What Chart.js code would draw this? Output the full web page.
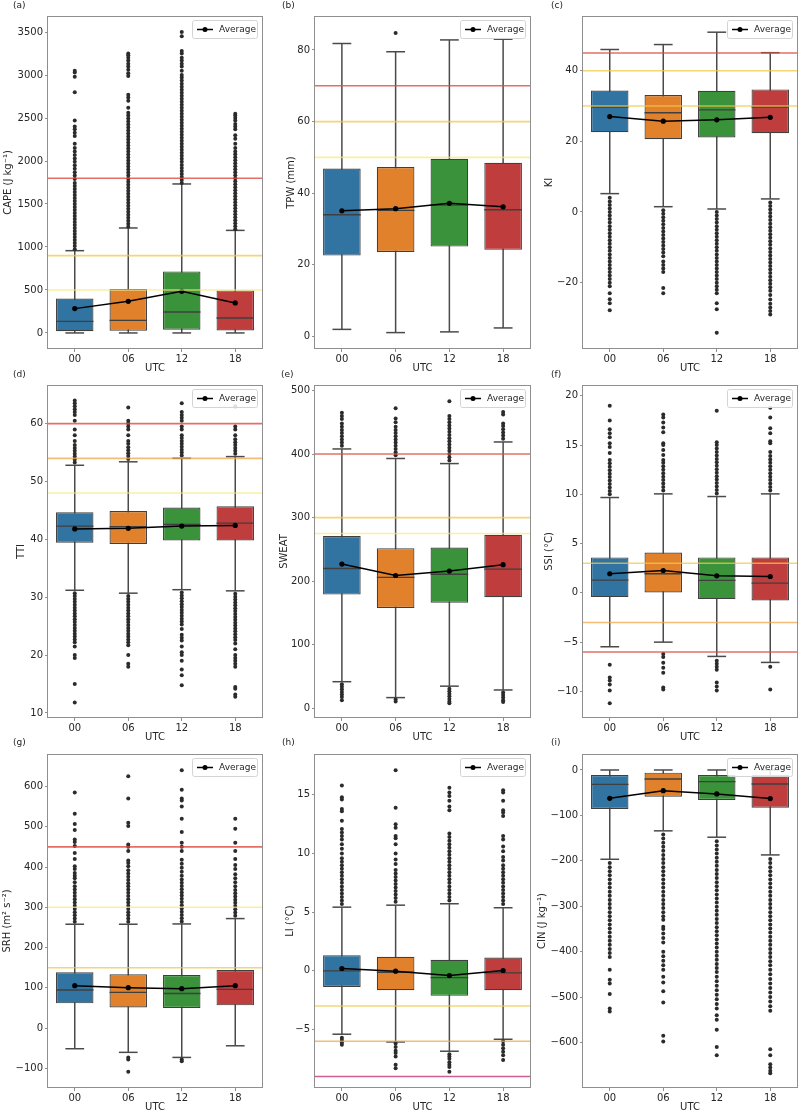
<!DOCTYPE html>
<html><head><meta charset="utf-8">
<script src="https://cdn.jsdelivr.net/npm/chart.js@4.4.0/dist/chart.umd.min.js"></script>
<style>
html,body{margin:0;padding:0;background:#fff;}
#wrap{position:relative;width:800px;height:1113px;overflow:hidden;background:#fff;}
#wrap canvas{position:absolute;}
.plabel{position:absolute;font:9px "DejaVu Sans",sans-serif;color:#222;white-space:nowrap;z-index:5;}
</style></head><body><div id="wrap"></div>
<script>
// ---------- DATA ----------
const utc = ['00', '06', '12', '18'];

// (a) CAPE
const capeTicks = [0, 500, 1000, 1500, 2000, 2500, 3000, 3500];
const capeQ1 = [19, 27, 38, 28];
const capeQ3 = [400, 512, 716, 495];
const capeMedian = [135, 147, 244, 174];
const capeMean = [283, 368, 484, 349];
const capeWhiskerLow = [0, 0, 0, 0];
const capeWhiskerHigh = [957, 1221, 1733, 1193];
const capeOutliers = [
  [975,1010,1045,1080,1115,1150,1185,1220,1255,1290,1325,1360,1395,1430,1465,1500,1535,1570,1605,1640,1675,1710,1745,1790,1830,1870,1910,1950,1990,2030,2070,2110,2150,2200,2290,2330,2370,2400,2470,2800,2980,3030,3050],
  [1235,1270,1305,1340,1375,1410,1445,1480,1515,1550,1585,1620,1655,1690,1725,1760,1795,1830,1865,1900,1935,1970,2005,2040,2075,2110,2145,2180,2215,2250,2285,2320,2355,2390,2425,2460,2495,2530,2560,2620,2700,2740,2770,2990,3020,3060,3100,3130,3170,3200,3230,3250],
  [1745,1780,1815,1850,1885,1920,1955,1990,2025,2060,2095,2130,2165,2200,2235,2270,2305,2340,2375,2410,2445,2480,2515,2550,2585,2620,2655,2690,2725,2760,2795,2830,2865,2900,2935,2970,3000,3050,3100,3130,3170,3200,3250,3280,3450,3500],
  [1205,1240,1275,1310,1345,1380,1415,1450,1485,1520,1555,1590,1625,1660,1695,1730,1765,1800,1835,1870,1905,1940,1975,2010,2045,2080,2110,2150,2200,2260,2300,2370,2400,2430,2470,2500,2530,2550]
];
const capeThresholds = [1800, 900, 500];

// (b) TPW
const tpwTicks = [0, 20, 40, 60, 80];
const tpwQ1 = [22.6, 23.6, 25.1, 24.2];
const tpwQ3 = [46.9, 47.3, 49.6, 48.5];
const tpwMedian = [34.0, 35.2, 36.7, 35.4];
const tpwMean = [35.1, 35.7, 37.2, 36.2];
const tpwWhiskerLow = [2.0, 1.1, 1.3, 2.4];
const tpwWhiskerHigh = [81.8, 79.5, 82.8, 83.0];
const tpwOutliers = [[], [84.7], [], []];
const tpwThresholds = [70, 60, 50];

// (c) KI
const kiTicks = [-20, 0, 20, 40];
const kiQ1 = [22.6, 20.6, 21.1, 22.3];
const kiQ3 = [34.4, 33.1, 34.3, 34.7];
const kiMedian = [29.7, 28.1, 28.9, 29.7];
const kiMean = [27.0, 25.7, 26.1, 26.8];
const kiWhiskerLow = [5.2, 1.5, 0.85, 3.7];
const kiWhiskerHigh = [46.0, 47.4, 50.9, 45.1];
const kiOutliers = [
  [4,3,2,1,0,-1,-2,-3,-4,-5,-6,-7,-8,-9,-10,-11,-12,-13,-14,-15,-16,-17,-18,-19,-20,-21,-23,-24.7,-25.8,-27.8],
  [0.5,-0.5,-1.5,-2.5,-3.5,-4.5,-5.5,-6.5,-7.5,-8.5,-9.5,-10.5,-11.5,-12.5,-14,-15,-16,-17,-21.5,-23],
  [0,-1,-2,-3,-4,-5,-6,-7,-8,-9,-10,-11,-12,-13,-14,-15,-16,-17,-18,-19,-20,-21,-22,-23,-25.8,-27.5,-34.2],
  [2.7,1.7,0.7,-0.3,-1.3,-2.3,-3.3,-4.3,-5.3,-6.3,-7.3,-8.3,-9.3,-10.3,-11.3,-12.3,-13.3,-14.3,-15.3,-16.3,-17.3,-18.3,-19.3,-20.3,-21.3,-22.3,-23.5,-24.8,-26,-27,-28,-29]
];
const kiThresholds = [45, 40, 30];

// (d) TTI
const ttiTicks = [10, 20, 30, 40, 50, 60];
const ttiQ1 = [39.4, 39.2, 39.8, 39.8];
const ttiQ3 = [44.7, 44.9, 45.5, 45.7];
const ttiMedian = [42.3, 42.2, 42.6, 42.8];
const ttiMean = [41.8, 41.9, 42.3, 42.4];
const ttiWhiskerLow = [31.2, 30.7, 31.3, 31.1];
const ttiWhiskerHigh = [52.8, 53.4, 54.0, 54.3];
const ttiOutliers = [
  [53.3,53.8,54.3,54.8,55.3,55.8,56.3,57,58,59,60.5,61.5,62,62.5,63,63.5,64,30.7,30.2,29.7,29.2,28.7,28.2,27.7,27.2,26.7,26.2,25.7,25.2,24.7,24.2,23.7,23.2,22.7,22.2,21.5,20,19.5,15,11.8],
  [53.9,54.4,54.9,55.4,55.9,56.5,57,58,59,59.5,60,60.5,62.8,30.2,29.7,29.2,28.7,28.2,27.7,27.2,26.7,26.2,25.7,25.2,24.7,24.2,23.7,23.2,22.7,22.2,21.7,20,18.5,18],
  [54.5,55,55.5,56,56.5,57,57.5,58,59,59.5,60.5,61,61.5,62,63.5,30.8,30.3,29.8,29.3,28.8,28.3,27.8,27.3,26.8,26.3,25.8,25.3,24.5,23.5,23,22.5,21.5,20.5,20,19,17.5,16.5,14.8],
  [54.8,55.3,55.8,56.3,56.8,57.3,58,59,59.5,63,30.6,30.1,29.6,29.1,28.6,28.1,27.6,27.1,26.6,26.1,25.6,25.1,24.6,24.1,23.6,23.1,22.6,22,21,20,19.5,19,18.5,18,14.5,14.2,13.2,12.8]
];
const ttiThresholds = [60, 54, 48];

// (e) SWEAT
const sweatTicks = [0, 100, 200, 300, 400, 500];
const sweatQ1 = [179, 158, 166, 175];
const sweatQ3 = [271, 252, 253, 273];
const sweatMedian = [220, 206, 211, 219];
const sweatMean = [227, 209, 216, 226];
const sweatWhiskerLow = [42, 17, 35, 29];
const sweatWhiskerHigh = [408, 393, 385, 419];
const sweatOutliers = [
  [413,418,423,428,433,438,443,448,455,460,465,38,34,30,26,22,18,13],
  [398,403,408,413,418,423,428,433,438,443,450,456,472,14,11],
  [390,395,400,405,410,415,420,425,430,435,440,445,450,455,460,483,31,27,23,19,15,11,8],
  [424,429,434,439,444,448,462,466,25,21,17,13,10]
];
const sweatThresholds = [400, 300, 275];

// (f) SSI
const ssiTicks = [-10, -5, 0, 5, 10, 15, 20];
const ssiQ1 = [-0.43, 0.04, -0.63, -0.77];
const ssiQ3 = [3.6, 4.1, 3.6, 3.6];
const ssiMedian = [1.3, 1.94, 1.26, 0.99];
const ssiMean = [1.94, 2.27, 1.73, 1.66];
const ssiWhiskerLow = [-5.47, -5.0, -6.45, -7.06];
const ssiWhiskerHigh = [9.68, 10.05, 9.78, 10.05];
const ssiOutliers = [
  [10,10.35,10.7,11.05,11.4,11.75,12.1,12.45,12.8,13.15,13.5,14.2,14.8,15.2,15.8,16.2,16.6,17.5,19,-7.3,-8.6,-8.9,-9.3,-9.9,-11.2],
  [10.4,10.75,11.1,11.45,11.8,12.15,12.5,12.85,13.2,13.5,14,14.5,15,15.2,16.3,16.8,17.3,17.8,18.1,-6.2,-6.5,-7.1,-7.6,-8.1,-9.6,-9.8],
  [10.1,10.45,10.8,11.15,11.5,11.85,12.2,12.55,12.9,13.25,13.6,13.95,14.3,14.65,15,15.3,18.5,-6.9,-7.2,-7.5,-7.8,-9.1,-9.5,-9.9],
  [10.4,10.75,11.1,11.45,11.8,12.15,12.5,12.85,13.2,13.55,13.9,14.3,15.2,15.4,16.2,16.7,17.8,18.8,-7.5,-9.8]
];
const ssiThresholds = [3, -3, -6];

// (g) SRH
const srhTicks = [-100, 0, 100, 200, 300, 400, 500, 600];
const srhQ1 = [61.6, 51.6, 50.0, 56.6];
const srhQ3 = [138.6, 133.6, 132.0, 144.4];
const srhMedian = [94.7, 89.0, 86.0, 96.4];
const srhMean = [105.4, 100.4, 98.0, 105.4];
const srhWhiskerLow = [-51, -60, -72.6, -43.7];
const srhWhiskerHigh = [258, 258, 258.7, 272];
const srhOutliers = [
  [264,272,280,288,296,304,312,320,328,336,344,352,362,372,378,385,395,402,420,435,452,462,468,492,507,532,585],
  [264,272,280,288,296,304,312,320,328,336,344,352,360,368,376,384,392,402,410,416,440,450,456,502,510,570,625,-73,-78,-108],
  [265,273,281,289,297,305,313,321,329,337,345,353,361,369,378,388,398,408,418,440,450,460,487,520,550,565,570,592,640,-78,-82],
  [279,287,295,303,311,319,327,335,343,352,362,372,382,395,405,420,440,460,495,520]
];
const srhThresholds = [450, 300, 150];

// (h) LI
const liTicks = [-5, 0, 5, 10, 15];
const liQ1 = [-1.37, -1.65, -2.13, -1.65];
const liQ3 = [1.34, 1.2, 0.94, 1.14];
const liMedian = [0.0, -0.12, -0.57, -0.17];
const liMean = [0.2, -0.03, -0.4, 0.03];
const liWhiskerLow = [-5.4, -6.06, -6.85, -5.83];
const liWhiskerHigh = [5.43, 5.6, 5.72, 5.38];
const liOutliers = [
  [5.7,6,6.3,6.6,6.9,7.2,7.5,7.8,8.1,8.4,8.7,9,9.3,9.6,10,10.4,10.8,11.2,11.5,11.8,12.1,12.8,13.6,13.8,14.6,14.8,15.8,-5.7,-5.9,-6.1,-6.3],
  [5.9,6.2,6.5,6.8,7.1,7.4,7.7,8,8.3,8.6,9.1,9.5,10,10.8,11.3,11.5,12.2,12.5,13.9,17.1,-6.2,-6.5,-6.8,-7,-7.3,-8,-8.3],
  [6,6.3,6.6,6.9,7.2,7.5,7.8,8.1,8.4,8.7,9,9.3,9.6,9.9,10.2,10.5,10.8,11.1,11.4,11.7,13.7,14,14.5,14.9,15.2,15.6,-7.1,-7.3,-7.5,-7.8,-8,-8.2,-8.6],
  [5.7,6,6.3,6.6,6.9,7.2,7.5,7.8,8.1,8.4,8.7,9,9.4,9.7,10.2,10.6,11.2,11.5,13.2,13.5,13.7,14.5,15.2,15.4,-6,-6.3,-6.6,-6.9,-7.2,-7.6]
];
const liThresholds = [-3, -6, -9];

// (i) CIN
const cinTicks = [-600, -500, -400, -300, -200, -100, 0];
const cinQ1 = [-85.8, -58.7, -66, -83];
const cinQ3 = [-11, -5.9, -11, -11];
const cinMedian = [-31.5, -19.8, -25.7, -30.8];
const cinMean = [-62.3, -45.5, -52.8, -63];
const cinWhiskerLow = [-196.6, -134, -148, -187];
const cinWhiskerHigh = [0, 0, 0, 0];
const cinOutliers = [
  [-205,-214,-223,-232,-241,-250,-259,-268,-277,-286,-295,-304,-313,-322,-331,-340,-349,-358,-367,-376,-385,-394,-403,-412,-440,-462,-470,-493,-525,-532],
  [-142,-151,-160,-169,-178,-187,-196,-205,-214,-223,-232,-241,-250,-259,-268,-277,-286,-295,-304,-313,-322,-330,-345,-350,-360,-370,-380,-400,-410,-420,-430,-440,-455,-468,-487,-512,-585,-598],
  [-157,-166,-175,-184,-193,-202,-211,-220,-229,-238,-247,-256,-265,-274,-283,-292,-301,-310,-319,-328,-337,-346,-355,-364,-373,-382,-391,-400,-409,-418,-427,-436,-445,-455,-465,-475,-485,-495,-505,-515,-525,-540,-550,-572,-610,-628],
  [-196,-205,-214,-223,-232,-241,-250,-259,-268,-277,-286,-295,-304,-313,-322,-331,-340,-349,-358,-367,-376,-385,-394,-403,-412,-421,-430,-440,-450,-460,-470,-480,-490,-500,-510,-520,-530,-615,-628,-648,-655,-662,-668]
];
const cinThresholds = [];

// ---------- STYLE ----------
const BOX_COLORS = ['#3274a1', '#e1812c', '#3a923a', '#c03d3e'];
const EDGE = '#3f3f3f';
const WHISK = '#4a4a4a';
const SPINE = '#8f8f8f';
const TEXT = '#262626';
const RED = 'rgba(222,75,65,0.8)';
const GOLD = 'rgba(242,200,70,0.75)';
const ORANGE = 'rgba(240,165,70,0.75)';
const PALE = 'rgba(248,232,120,0.7)';
const MAGENTA = 'rgba(200,50,120,0.8)';
const FONT = '"DejaVu Sans", sans-serif';

const colL = [0, 265, 530], colW = [265, 266, 270];
const areaX = [[48, 262], [315, 530], [583, 797]];
const rowT = [0, 370, 740];
const areaY = [[17, 348], [386, 717], [755, 1087]];
const X_H = 26;

const panels = [
  {label:'(a)', col:0, row:0, titleX:8,    yTitle:'CAPE (J kg\u207B\u00B9)', min:-175, max:3675, ticks:capeTicks, q1:capeQ1, q3:capeQ3, med:capeMedian, mean:capeMean, wlo:capeWhiskerLow, whi:capeWhiskerHigh, out:capeOutliers, thr:capeThresholds, thrColors:[RED, GOLD, PALE], labelXY:[13,0]},
  {label:'(b)', col:1, row:0, titleX:291,  yTitle:'TPW (mm)', min:-3.2, max:89.2, ticks:tpwTicks, q1:tpwQ1, q3:tpwQ3, med:tpwMedian, mean:tpwMean, wlo:tpwWhiskerLow, whi:tpwWhiskerHigh, out:tpwOutliers, thr:tpwThresholds, thrColors:[RED, GOLD, PALE], labelXY:[282,0]},
  {label:'(c)', col:2, row:0, titleX:549,  yTitle:'KI', min:-38.5, max:55.2, ticks:kiTicks, q1:kiQ1, q3:kiQ3, med:kiMedian, mean:kiMean, wlo:kiWhiskerLow, whi:kiWhiskerHigh, out:kiOutliers, thr:kiThresholds, thrColors:[RED, GOLD, GOLD], labelXY:[551,0]},
  {label:'(d)', col:0, row:1, titleX:21.7, yTitle:'TTI', min:9.3, max:66.5, ticks:ttiTicks, q1:ttiQ1, q3:ttiQ3, med:ttiMedian, mean:ttiMean, wlo:ttiWhiskerLow, whi:ttiWhiskerHigh, out:ttiOutliers, thr:ttiThresholds, thrColors:[RED, ORANGE, PALE], labelXY:[13,369]},
  {label:'(e)', col:1, row:1, titleX:284,  yTitle:'SWEAT', min:-13.5, max:507, ticks:sweatTicks, q1:sweatQ1, q3:sweatQ3, med:sweatMedian, mean:sweatMean, wlo:sweatWhiskerLow, whi:sweatWhiskerHigh, out:sweatOutliers, thr:sweatThresholds, thrColors:[RED, GOLD, PALE], labelXY:[281,369]},
  {label:'(f)', col:2, row:1, titleX:549,  yTitle:'SSI (\u00B0C)', min:-12.6, max:21, ticks:ssiTicks, q1:ssiQ1, q3:ssiQ3, med:ssiMedian, mean:ssiMean, wlo:ssiWhiskerLow, whi:ssiWhiskerHigh, out:ssiOutliers, thr:ssiThresholds, thrColors:[GOLD, ORANGE, RED], labelXY:[551,369]},
  {label:'(g)', col:0, row:2, titleX:7.3,  yTitle:'SRH (m\u00B2 s\u207B\u00B2)', min:-146, max:678, ticks:srhTicks, q1:srhQ1, q3:srhQ3, med:srhMedian, mean:srhMean, wlo:srhWhiskerLow, whi:srhWhiskerHigh, out:srhOutliers, thr:srhThresholds, thrColors:[RED, PALE, GOLD], labelXY:[13,737]},
  {label:'(h)', col:1, row:2, titleX:290,  yTitle:'LI (\u00B0C)', min:-9.9, max:18.4, ticks:liTicks, q1:liQ1, q3:liQ3, med:liMedian, mean:liMean, wlo:liWhiskerLow, whi:liWhiskerHigh, out:liOutliers, thr:liThresholds, thrColors:[GOLD, ORANGE, MAGENTA], labelXY:[282,737]},
  {label:'(i)', col:2, row:2, titleX:542.3,yTitle:'CIN (J kg\u207B\u00B9)', min:-698, max:33, ticks:cinTicks, q1:cinQ1, q3:cinQ3, med:cinMedian, mean:cinMean, wlo:cinWhiskerLow, whi:cinWhiskerHigh, out:cinOutliers, thr:cinThresholds, thrColors:[], labelXY:[551,737]}
];

const fmt = v => (v < 0 ? '\u2212' + Math.abs(v) : String(v));

const framePlugin = {
  id: 'frame',
  afterDraw(chart) {
    const {ctx, chartArea: a} = chart;
    ctx.save();
    ctx.strokeStyle = SPINE; ctx.lineWidth = 1;
    ctx.strokeRect(Math.round(a.left) - 0.5, Math.round(a.top) - 0.5, Math.round(a.right - a.left) + 1, Math.round(a.bottom - a.top) + 1);
    // legend
    const w = 65, h = 18;
    const x = Math.round(a.right) - 5 - w, y = Math.round(a.top) + 3;
    ctx.fillStyle = 'rgba(255,255,255,0.85)';
    ctx.strokeStyle = '#d4d4d4';
    ctx.beginPath();
    if (ctx.roundRect) ctx.roundRect(x + 0.5, y + 0.5, w, h, 2); else ctx.rect(x + 0.5, y + 0.5, w, h);
    ctx.fill(); ctx.stroke();
    const cy = y + h / 2 + 0.5;
    ctx.strokeStyle = '#000'; ctx.lineWidth = 1.5;
    ctx.beginPath(); ctx.moveTo(x + 5, cy); ctx.lineTo(x + 21, cy); ctx.stroke();
    ctx.fillStyle = '#000';
    ctx.beginPath(); ctx.arc(x + 13, cy, 2.5, 0, Math.PI * 2); ctx.fill();
    ctx.fillStyle = TEXT; ctx.font = '9px ' + FONT; ctx.textBaseline = 'middle'; ctx.textAlign = 'left';
    ctx.fillText('Average', x + 27, cy);
    ctx.restore();
  }
};

const halfBox = ctx => { const a = ctx.chart.chartArea; return a ? (a.right - a.left) / 4 * 0.7 / 2 : 19; };
const capR = ctx => { const a = ctx.chart.chartArea; return a ? (a.right - a.left) / 4 * 0.7 / 4 : 9.5; };

const wrap = document.getElementById('wrap');
panels.forEach(p => {
  const L = colL[p.col], W = colW[p.col], T = rowT[p.row];
  const [aL, aR] = areaX[p.col];
  const [aT, aB] = areaY[p.row];
  const H = aB - T + X_H;
  const pl = p.titleX - 6 - L;
  const yW = aL - L - pl;
  const cv = document.createElement('canvas');
  cv.width = W; cv.height = H;
  cv.style.left = L + 'px'; cv.style.top = T + 'px';
  cv.style.width = W + 'px'; cv.style.height = H + 'px';
  wrap.appendChild(cv);
  const lab = document.createElement('div');
  lab.className = 'plabel'; lab.textContent = p.label;
  lab.style.left = p.labelXY[0] + 'px'; lab.style.top = p.labelXY[1] + 'px';
  wrap.appendChild(lab);

  const idx = utc.map((_, i) => i);
  const datasets = [];
  datasets.push({type:'line', data: idx.flatMap(i => [{x:i, y:p.wlo[i]}, {x:i, y:p.whi[i]}, {x:i, y:null}]), borderColor: WHISK, borderWidth: 1.5, pointRadius: 0, spanGaps: false, order: 6});
  datasets.push({type:'bar', data: idx.map(i => ({x:i, y:[p.q1[i], p.q3[i]]})), backgroundColor: BOX_COLORS, borderColor: EDGE, borderWidth: 1.2, borderSkipped: false, barPercentage: 0.7, categoryPercentage: 1.0, order: 5});
  datasets.push({type:'scatter', data: idx.flatMap(i => [{x:i, y:p.wlo[i]}, {x:i, y:p.whi[i]}]), pointStyle:'line', pointRadius: capR, pointBorderColor: WHISK, pointBorderWidth: 1.5, order: 4});
  datasets.push({type:'scatter', data: idx.map(i => ({x:i, y:p.med[i]})), pointStyle:'line', pointRadius: halfBox, pointBorderColor: EDGE, pointBorderWidth: 1.3, order: 3});
  datasets.push({type:'scatter', data: idx.flatMap(i => p.out[i].map(v => ({x:i, y:v}))), pointStyle:'circle', pointRadius: 2, pointBackgroundColor: '#2b2b2b', pointBorderWidth: 0, order: 2});
  datasets.push({type:'line', data: idx.map(i => ({x:i, y:p.mean[i]})), borderColor:'#000', borderWidth:1.5, pointRadius:2.6, pointBackgroundColor:'#000', pointBorderWidth:0, tension:0, order: 1});
  p.thr.forEach((v, k) => {
    datasets.push({type:'line', data:[{x:-0.5, y:v}, {x:3.5, y:v}], borderColor: p.thrColors[k], borderWidth: 1.6, pointRadius: 0, order: 0});
  });

  new Chart(cv, {
    type: 'bar',
    data: {datasets},
    plugins: [framePlugin],
    options: {
      responsive: false, animation: false, events: [],
      layout: {autoPadding: false, padding: {left: pl, top: aT - T, right: (L + W) - aR, bottom: 0}},
      plugins: {legend: {display: false}, tooltip: {enabled: false}, title: {display: false}},
      scales: {
        x: {type:'linear', position:'bottom', min:-0.5, max:3.5, offset:false,
            afterBuildTicks: s => { s.ticks = idx.map(v => ({value: v})); },
            grid:{offset:false, drawOnChartArea:false, drawTicks:true, tickLength:4, color:SPINE},
            border:{display:false},
            ticks:{font:{family:FONT, size:10}, color:TEXT, padding:1, maxRotation:0, autoSkip:false, callback: v => utc[v]},
            title:{display:true, text:'UTC', font:{family:FONT, size:10}, color:TEXT, padding:0},
            afterFit: s => { s.height = X_H; s.paddingLeft = 0; s.paddingRight = 0; }},
        y: {type:'linear', position:'left', min:p.min, max:p.max,
            afterBuildTicks: s => { s.ticks = p.ticks.map(v => ({value: v})); },
            grid:{drawOnChartArea:false, drawTicks:true, tickLength:3, color:SPINE},
            border:{display:false},
            ticks:{font:{family:FONT, size:10}, color:TEXT, padding:2, autoSkip:false, callback: v => fmt(v)},
            title:{display:true, text:p.yTitle, font:{family:FONT, size:10}, color:TEXT, padding:0},
            afterFit: s => { s.width = yW; s.paddingTop = 0; s.paddingBottom = 0; }}
      }
    }
  });
});
</script></body></html>
